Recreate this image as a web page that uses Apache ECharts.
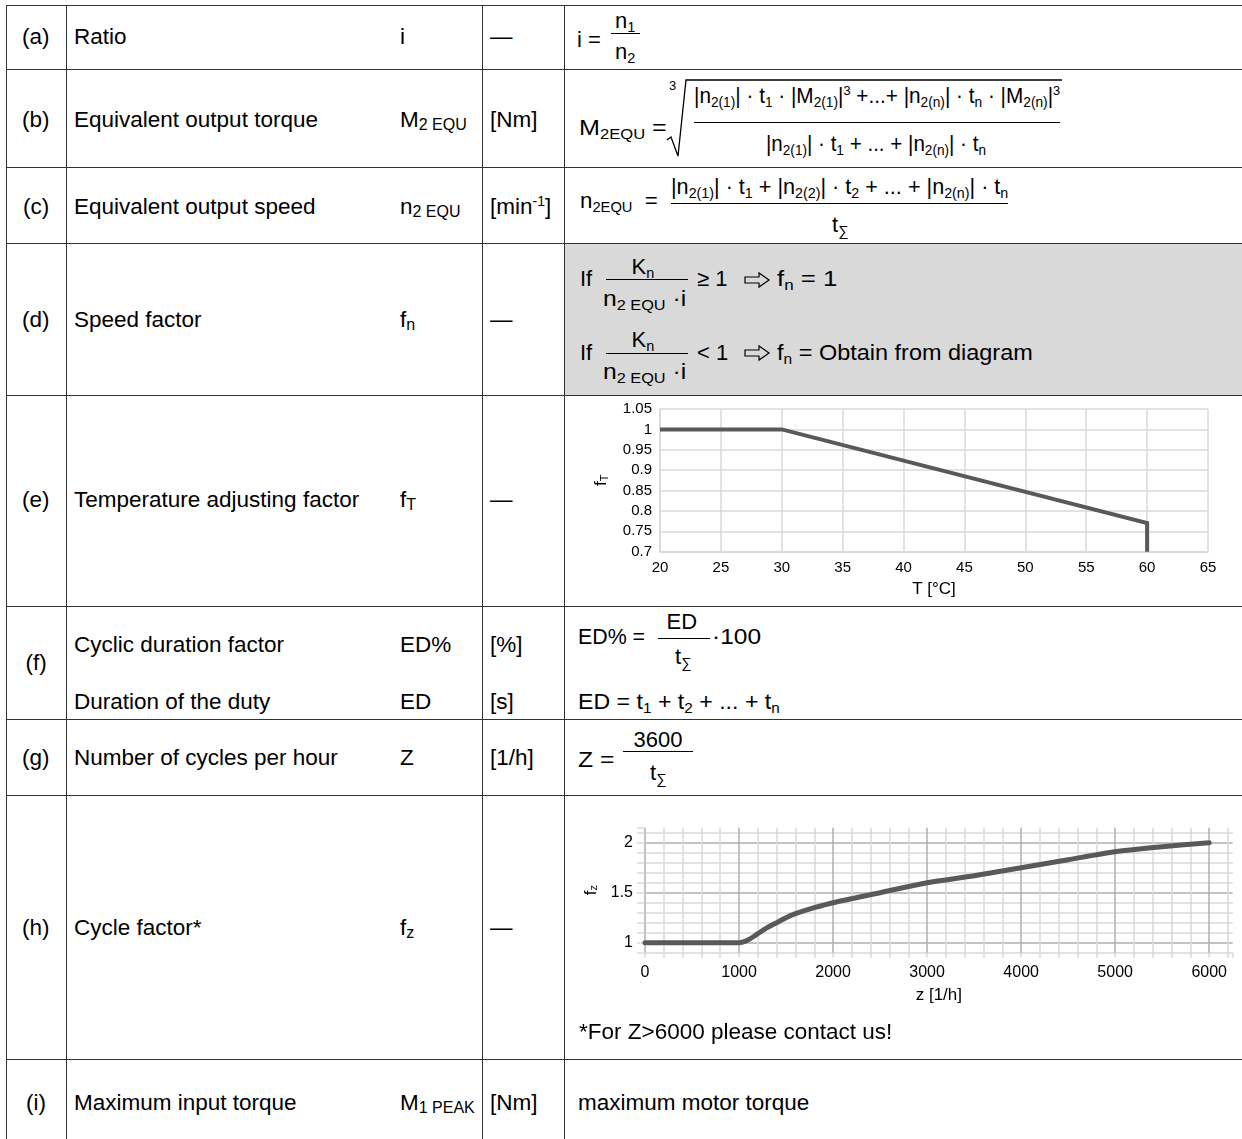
<!DOCTYPE html>
<html><head><meta charset="utf-8">
<script src="https://cdn.jsdelivr.net/npm/echarts@6/dist/echarts.min.js"></script>
<style>
html,body{margin:0;padding:0;background:#fff;}
body{width:1242px;height:1139px;overflow:hidden;position:relative;font-family:"Liberation Sans",Arial,sans-serif;color:#000;}
.t{position:absolute;white-space:nowrap;font-size:22.5px;line-height:22px;transform:translateY(-50%);}
.fm{position:absolute;white-space:nowrap;}
.hl{position:absolute;height:0;border-top:1px solid #333;}
.vl{position:absolute;width:0;border-left:1px solid #333;}
.bar{position:absolute;height:0;border-top:1.3px solid #000;}
.sb{font-size:0.66em;vertical-align:-0.3em;line-height:0;}
.sp{font-size:0.62em;vertical-align:0.62em;line-height:0;}
.ss{font-size:16px;vertical-align:-3px;line-height:0;}
.su{font-size:14px;vertical-align:8px;line-height:0;}
.chart{position:absolute;}
</style>
</head><body>
<div style="position:absolute;left:564px;top:243px;width:678px;height:152px;background:#d9d9d9;"></div>
<svg style="position:absolute;left:0;top:0" width="1242" height="1139">
  <path d="M667,140 L671,137 L678,156 L686,80 L1062,80" fill="none" stroke="#000" stroke-width="1.3"/>
  <path d="M745,277 L759,277 L759,273 L769,280 L759,287 L759,283 L745,283 Z" fill="none" stroke="#000" stroke-width="1.2"/>
  <path d="M745,350 L759,350 L759,346 L769,353 L759,360 L759,356 L745,356 Z" fill="none" stroke="#000" stroke-width="1.2"/>
</svg>
<div id="ce" class="chart" style="left:565px;top:396px;width:677px;height:209px;"></div>
<div id="ch" class="chart" style="left:565px;top:796px;width:677px;height:262px;"></div>
<script>
// ---------- chart data ----------
const tempX = [20, 30, 60, 60];
const tempFactor = [1, 1, 0.77, 0.7];
const tempTicks = {min: 20, max: 65, step: 5};
const fTTicks = {min: 0.7, max: 1.05, step: 0.05};

const cycleZ = [0, 1000, 1100, 1200, 1300, 1400, 1500, 1600, 1800, 2000, 2500, 3000, 3500, 4000, 4500, 5000, 5500, 6000];
const cycleFactor = [1, 1, 1.03, 1.09, 1.15, 1.2, 1.25, 1.29, 1.35, 1.4, 1.5, 1.6, 1.67, 1.75, 1.83, 1.91, 1.96, 2.0];
const zTicks = {min: 0, max: 6250, step: 200, major: 1000};
const fzTicks = {min: 0.9, max: 2.15, step: 0.1, major: 0.5};

// ---------- table ----------
const rowsY = [5, 69, 167, 243, 395, 606, 719, 795, 1059];
const colsX = [6, 66, 482, 564];
rowsY.forEach(y => { const d = document.createElement('div'); d.className = 'hl'; d.style.left = '6px'; d.style.width = '1240px'; d.style.top = (y - 0.5) + 'px'; document.body.appendChild(d); });
colsX.forEach(x => { const d = document.createElement('div'); d.className = 'vl'; d.style.left = (x - 0.5) + 'px'; d.style.top = '5px'; d.style.height = '1140px'; document.body.appendChild(d); });

function T(x, y, html, center) {
  const d = document.createElement('div'); d.className = 't'; d.innerHTML = html;
  document.body.appendChild(d);
  if (center) d.style.left = (x - d.offsetWidth / 2) + 'px'; else d.style.left = x + 'px';
  d.style.top = y + 'px';
}
const labels = ['(a)', '(b)', '(c)', '(d)', '(e)', '(f)', '(g)', '(h)', '(i)'];
const labelY = [37, 120, 207, 320, 500, 663, 758, 928, 1103];
labels.forEach((l, i) => T(36, labelY[i], l, true));
const names = [['Ratio', 37], ['Equivalent output torque', 120], ['Equivalent output speed', 207], ['Speed factor', 320], ['Temperature adjusting factor', 500], ['Cyclic duration factor', 645], ['Duration of the duty', 702], ['Number of cycles per hour', 758], ['Cycle factor*', 928], ['Maximum input torque', 1103]];
names.forEach(n => T(74, n[1], n[0]));
const syms = [['i', 37], ['M<span class="ss">2 EQU</span>', 120], ['n<span class="ss">2 EQU</span>', 207], ['f<span class="ss">n</span>', 320], ['f<span class="ss">T</span>', 500], ['ED%', 645], ['ED', 702], ['Z', 758], ['f<span class="ss">z</span>', 928], ['M<span class="ss">1 PEAK</span>', 1103]];
syms.forEach(s => T(400, s[1], s[0]));
const units = [['—', 37], ['[Nm]', 120], ['[min<span class="su">-1</span>]', 207], ['—', 320], ['—', 500], ['[%]', 645], ['[s]', 702], ['[1/h]', 758], ['—', 928], ['[Nm]', 1103]];
units.forEach(u => T(490, u[1], u[0]));
T(579, 1032, '*For Z&gt;6000 please contact us!');
T(578, 1103, 'maximum motor torque');

// formula pieces: x0 (left or centre), x1 (fit right edge or null), baseline y
function fm(x0, x1, base, html, opts) {
  opts = opts || {};
  const fs = opts.fs || 22;
  const d = document.createElement('div'); d.className = 'fm';
  d.style.fontSize = fs + 'px'; d.style.lineHeight = fs + 'px';
  d.innerHTML = html; document.body.appendChild(d);
  const w = d.offsetWidth;
  const s = (x1 != null) ? (x1 - x0) / w : (opts.s || 1);
  d.style.left = (opts.center ? x0 - w * s / 2 : x0) + 'px';
  d.style.top = (base - 0.8465 * fs) + 'px';
  d.style.transformOrigin = '0 0';
  d.style.transform = 'scaleX(' + s + ')';
}
function bar(x0, x1, y) { const d = document.createElement('div'); d.className = 'bar'; d.style.left = x0 + 'px'; d.style.width = (x1 - x0) + 'px'; d.style.top = (y - 0.6) + 'px'; document.body.appendChild(d); }
const sb = s => '<span class="sb">' + s + '</span>';
const sp = s => '<span class="sp">' + s + '</span>';
const tS = 't' + sb('∑');

// (a)
fm(577, null, 48, 'i =');
fm(625, null, 29, 'n' + sb('1'), {center: true});
bar(611, 640, 34);
fm(625, null, 60, 'n' + sb('2'), {center: true});
// (b)
fm(579, 667, 136, 'M' + sb('2EQU') + ' =');
fm(669, null, 90, '3', {fs: 13});
fm(694, 1060, 104, '|n' + sb('2(1)') + '| · t' + sb('1') + ' · |M' + sb('2(1)') + '|' + sp('3') + ' +...+ |n' + sb('2(n)') + '| · t' + sb('n') + ' · |M' + sb('2(n)') + '|' + sp('3'));
bar(694, 1060, 122.7);
fm(766, 986, 152, '|n' + sb('2(1)') + '| · t' + sb('1') + ' + ... + |n' + sb('2(n)') + '| · t' + sb('n'));
// (c)
fm(580, 658, 209, 'n' + sb('2EQU') + '&nbsp; =');
fm(671, 1008, 195, '|n' + sb('2(1)') + '| · t' + sb('1') + ' + |n' + sb('2(2)') + '| · t' + sb('2') + ' + ... + |n' + sb('2(n)') + '| · t' + sb('n'));
bar(671, 1008, 204);
fm(840, null, 233, tS, {center: true});
// (d)
[[287, 275, 279.3, 307, '≥ 1', 'f' + sb('n') + ' = 1', 838], [361, 348, 353.3, 380, '&lt; 1', 'f' + sb('n') + ' = Obtain from diagram', 1033]].forEach(r => {
  fm(580, null, r[0], 'If');
  fm(643, null, r[1], 'K' + sb('n'), {center: true});
  bar(606, 688, r[2]);
  fm(603, 686, r[3], 'n' + sb('2 EQU') + ' ·i');
  fm(697, null, r[0], r[4]);
  fm(777, r[6], r[0], r[5]);
});
// (f)
fm(578, 645, 645, 'ED% =');
fm(682, null, 630, 'ED', {center: true});
bar(658, 710, 639);
fm(683, null, 665, tS, {center: true});
fm(712, 761, 645, '·100');
fm(578, 780, 710, 'ED = t' + sb('1') + ' + t' + sb('2') + ' + ... + t' + sb('n'));
// (g)
fm(578, 614, 768, 'Z =');
fm(658, null, 748, '3600', {center: true});
bar(623, 693, 752);
fm(658, null, 781, tS, {center: true});

// ---------- charts ----------
const FONT = 'Liberation Sans';
const ce = echarts.init(document.getElementById('ce'));
ce.setOption({
  animation: false,
  textStyle: {fontFamily: FONT},
  grid: {left: 95, right: 34, top: 13, bottom: 53.3},
  xAxis: {
    type: 'value', min: tempTicks.min, max: tempTicks.max, interval: tempTicks.step,
    axisLine: {show: true, lineStyle: {color: '#d9d9d9', width: 1.5}},
    axisTick: {show: false},
    splitLine: {show: true, lineStyle: {color: '#d9d9d9', width: 1.5}},
    axisLabel: {fontSize: 15, color: '#000', margin: 9, fontFamily: FONT},
    name: 'T [°C]', nameLocation: 'middle', nameGap: 28,
    nameTextStyle: {fontSize: 17, color: '#000', fontFamily: FONT}
  },
  yAxis: {
    type: 'value', min: fTTicks.min, max: fTTicks.max, interval: fTTicks.step,
    axisLine: {show: true, lineStyle: {color: '#d9d9d9', width: 1.5}},
    axisTick: {show: false},
    splitLine: {show: true, lineStyle: {color: '#d9d9d9', width: 1.5}},
    axisLabel: {fontSize: 15, color: '#000', margin: 8, fontFamily: FONT},
    name: '{a|f}{b|T}', nameLocation: 'middle', nameRotate: 90, nameGap: 50,
    nameTextStyle: {rich: {a: {fontSize: 17, color: '#000', fontFamily: FONT}, b: {fontSize: 11, color: '#000', fontFamily: FONT, padding: [7, 0, 0, 0]}}}
  },
  series: [{
    type: 'line', data: tempX.map((x, i) => [x, tempFactor[i]]), symbol: 'none', silent: true,
    lineStyle: {color: '#595959', width: 4, join: 'miter'}
  }]
});

const near = (v, m) => Math.abs(v / m - Math.round(v / m)) < 1e-6;
const MAJ = '#aeaeae', MIN = '#d9d9d9';
const ch = echarts.init(document.getElementById('ch'));
ch.setOption({
  animation: false,
  textStyle: {fontFamily: FONT},
  grid: {left: 80, right: 9.3, top: 31.7, bottom: 105.3},
  xAxis: {
    type: 'value', min: zTicks.min, max: zTicks.max, interval: zTicks.step,
    axisLine: {show: false},
    axisTick: {show: true, length: 5, lineStyle: {color: MIN, width: 1.5}},
    splitLine: {show: true, showMaxLine: false, lineStyle: {color: [MAJ, MIN, MIN, MIN, MIN], width: 1.5}},
    axisLabel: {fontSize: 16, color: '#000', margin: 12, fontFamily: FONT,
      formatter: v => near(v, zTicks.major) ? String(v) : ''},
    name: 'z [1/h]', nameLocation: 'middle', nameGap: 34,
    nameTextStyle: {fontSize: 17, color: '#000', fontFamily: FONT}
  },
  yAxis: {
    type: 'value', min: fzTicks.min, max: fzTicks.max, interval: fzTicks.step,
    axisLine: {show: false},
    axisTick: {show: true, length: 8, lineStyle: {color: MIN, width: 1.5}},
    splitLine: {show: true, showMaxLine: false, lineStyle: {color: [MIN, MAJ, MIN, MIN, MIN], width: 1.5}},
    axisLabel: {fontSize: 16, color: '#000', margin: 12, fontFamily: FONT,
      formatter: v => near(v, fzTicks.major) ? String(Math.round(v * 10) / 10) : ''},
    name: '{a|f}{b|z}', nameLocation: 'middle', nameRotate: 90, nameGap: 44,
    nameTextStyle: {rich: {a: {fontSize: 17, color: '#000', fontFamily: FONT}, b: {fontSize: 11, color: '#000', fontFamily: FONT, padding: [7, 0, 0, 0]}}}
  },
  series: [{
    type: 'line', data: cycleZ.map((z, i) => [z, cycleFactor[i]]), symbol: 'none', silent: true,
    smooth: 0.25,
    lineStyle: {color: '#595959', width: 5, cap: 'round'}
  }]
});
</script>
</body></html>
